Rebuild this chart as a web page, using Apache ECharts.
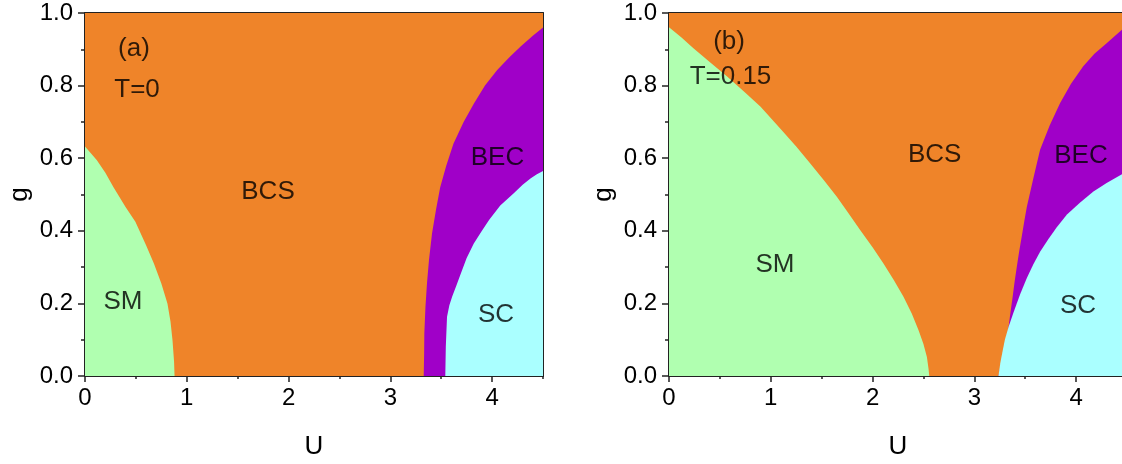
<!DOCTYPE html>
<html>
<head>
<meta charset="utf-8">
<script src="https://cdn.jsdelivr.net/npm/echarts@6/dist/echarts.min.js"></script>
<style>
html,body{margin:0;padding:0;background:#fff;}
#c{width:1122px;height:464px;}
</style>
</head>
<body>
<div id="c"></div>
<script>
// ---------- data ----------
// Panel (a): T = 0
const smA = [[0,0.632],[0.115,0.595],[0.2,0.56],[0.28,0.52],[0.40,0.465],[0.495,0.425],[0.60,0.36],[0.677,0.31],[0.75,0.255],[0.81,0.2],[0.84,0.15],[0.86,0.098],[0.875,0.04],[0.88,0]];
const becA = [[3.328,0],[3.332,0.06],[3.334,0.117],[3.345,0.19],[3.36,0.255],[3.38,0.32],[3.41,0.393],[3.45,0.46],[3.49,0.52],[3.55,0.58],[3.62,0.64],[3.72,0.70],[3.82,0.75],[3.93,0.80],[4.05,0.843],[4.17,0.878],[4.28,0.908],[4.40,0.937],[4.5,0.96]];
const scA = [[3.54,0],[3.545,0.08],[3.557,0.163],[3.58,0.195],[3.607,0.218],[3.65,0.25],[3.69,0.28],[3.75,0.325],[3.82,0.365],[3.90,0.40],[3.97,0.43],[4.08,0.47],[4.21,0.503],[4.30,0.527],[4.38,0.545],[4.44,0.556],[4.5,0.565]];
// Panel (b): T = 0.15
const smB = [[0,0.961],[0.12,0.933],[0.24,0.903],[0.40,0.865],[0.571,0.825],[0.75,0.78],[0.9,0.742],[1.108,0.677],[1.25,0.632],[1.386,0.586],[1.52,0.54],[1.649,0.494],[1.76,0.45],[1.878,0.402],[2.0,0.355],[2.107,0.31],[2.21,0.264],[2.304,0.218],[2.385,0.172],[2.452,0.126],[2.50,0.088],[2.534,0.052],[2.55,0.02],[2.557,0]];
const becB = [[3.237,0],[3.265,0.035],[3.29,0.07],[3.315,0.103],[3.336,0.135],[3.355,0.175],[3.375,0.215],[3.395,0.258],[3.417,0.30],[3.44,0.342],[3.465,0.383],[3.49,0.425],[3.516,0.466],[3.58,0.545],[3.646,0.623],[3.74,0.69],[3.843,0.752],[3.95,0.805],[4.07,0.853],[4.18,0.888],[4.3,0.917],[4.45,0.954],[4.5,0.965]];
const scB = [[3.237,0],[3.255,0.035],[3.275,0.065],[3.30,0.10],[3.336,0.135],[3.385,0.175],[3.45,0.225],[3.516,0.27],[3.58,0.308],[3.646,0.342],[3.73,0.378],[3.81,0.41],[3.91,0.445],[4.04,0.478],[4.17,0.508],[4.30,0.532],[4.45,0.556],[4.5,0.563]];
// full phase-diagram extent (BCS background)
const bcsFull = [[0,1],[4.5,1]];
// text labels [U, g, text]
const labelsA = [[0.481,0.901,'(a)'],[0.511,0.788,'T=0'],[0.373,0.204,'SM'],[1.798,0.507,'BCS'],[4.053,0.60,'BEC'],[4.038,0.168,'SC']];
const labelsB = [[0.59,0.92,'(b)'],[0.604,0.824,'T=0.15'],[1.041,0.306,'SM'],[2.61,0.609,'BCS'],[4.048,0.606,'BEC'],[4.019,0.193,'SC']];

// ---------- styling ----------
const FONT = 'Liberation Sans, Arial, Helvetica, sans-serif';
const AX = '#222';
const C_BCS = '#EF8429', C_SM = '#B0FFB0', C_BEC = '#A000C8', C_SC = '#AAFFFF';

const grids = [
  {left:85, top:13, width:458, height:363, outerBoundsMode:'none', containLabel:false},
  {left:669, top:13, width:458, height:363, outerBoundsMode:'none', containLabel:false}
];

const xAxes = [], yAxes = [];
for (let g = 0; g < 2; g++) {
  const base = {gridIndex:g, type:'value', min:0, max:4.5, splitLine:{show:false}};
  xAxes.push(Object.assign({}, base, {
    position:'bottom', interval:1, name:'U', nameLocation:'middle', nameGap:58,
    nameTextStyle:{fontSize:26, color:'#000', fontFamily:FONT},
    axisLine:{show:true, onZero:false, lineStyle:{color:AX, width:2}},
    axisTick:{show:true, inside:false, length:6, lineStyle:{color:AX, width:1.5}},
    axisLabel:{show:true, fontSize:24, color:'#000', fontFamily:FONT, margin:10, showMaxLabel:false}
  }));
  xAxes.push(Object.assign({}, base, {
    position:'bottom', interval:0.5,
    axisLine:{show:false, onZero:false},
    axisTick:{show:true, inside:false, length:3, lineStyle:{color:AX, width:1.5}},
    axisLabel:{show:false}
  }));
  xAxes.push(Object.assign({}, base, {
    position:'top', interval:1,
    axisLine:{show:true, onZero:false, lineStyle:{color:AX, width:2}},
    axisTick:{show:true, inside:true, length:5, lineStyle:{color:AX, width:1.5}},
    axisLabel:{show:false}
  }));
  xAxes.push(Object.assign({}, base, {
    position:'top', interval:0.5,
    axisLine:{show:false, onZero:false},
    axisTick:{show:true, inside:true, length:3, lineStyle:{color:AX, width:1.5}},
    axisLabel:{show:false}
  }));
  const ybase = {gridIndex:g, type:'value', min:0, max:1, interval:0.2, splitLine:{show:false}};
  yAxes.push(Object.assign({}, ybase, {
    position:'left', name:'g', nameLocation:'middle', nameGap:52,
    nameTextStyle:{fontSize:26, color:'#000', fontFamily:FONT},
    axisLine:{show:true, onZero:false, lineStyle:{color:AX, width:2}},
    axisTick:{show:true, inside:false, length:7, lineStyle:{color:AX, width:1.5}},
    minorTick:{show:true, splitNumber:2, length:4, lineStyle:{color:AX, width:1.5}},
    minorSplitLine:{show:false},
    axisLabel:{show:true, fontSize:24, color:'#000', fontFamily:FONT, margin:12,
      formatter: v => v.toFixed(1)}
  }));
  yAxes.push(Object.assign({}, ybase, {
    position:'right',
    axisLine:{show:true, onZero:false, lineStyle:{color:AX, width:2}},
    axisTick:{show:true, inside:true, length:5, lineStyle:{color:AX, width:1.5}},
    minorTick:{show:true, splitNumber:2, length:3, lineStyle:{color:AX, width:1.5}},
    minorSplitLine:{show:false},
    axisLabel:{show:false}
  }));
}

function area(data, color, g) {
  return {
    type:'line', data:data, xAxisIndex:g*4, yAxisIndex:g*2,
    showSymbol:false, symbol:'none', silent:true,
    lineStyle:{width:0, color:color},
    areaStyle:{color:color, opacity:1, origin:'start'}
  };
}
function labels(data, g) {
  return {
    type:'scatter', data:data, xAxisIndex:g*4, yAxisIndex:g*2,
    symbolSize:1, itemStyle:{color:'rgba(0,0,0,0)'}, silent:true, z:10,
    label:{show:true, position:'inside', formatter:p => p.data[2],
      fontSize:26, color:'#000', fontFamily:FONT, textBorderWidth:0}
  };
}

const series = [
  area(bcsFull, C_BCS, 0), area(smA, C_SM, 0), area(becA, C_BEC, 0), area(scA, C_SC, 0), labels(labelsA, 0),
  area(bcsFull, C_BCS, 1), area(smB, C_SM, 1), area(becB, C_BEC, 1), area(scB, C_SC, 1), labels(labelsB, 1)
];

const chart = echarts.init(document.getElementById('c'), null, {renderer:'canvas'});
chart.setOption({
  animation:false,
  backgroundColor:'#fff',
  grid:grids, xAxis:xAxes, yAxis:yAxes, series:series
});
</script>
</body>
</html>
